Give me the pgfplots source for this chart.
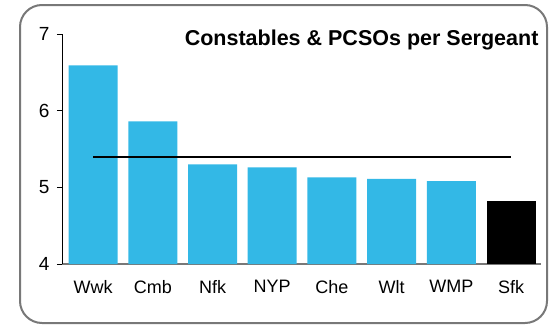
\documentclass[border=0pt]{standalone}
\usepackage{pgfplots}
\pgfplotsset{compat=1.18}
\usepackage{fontspec}
\setmainfont{Liberation Sans}
\definecolor{barblue}{RGB}{51,184,230}
\definecolor{framegray}{RGB}{120,120,120}

\begin{document}
\begin{tikzpicture}[x=1pt,y=1pt]
\useasboundingbox (0,0) rectangle (553,325);
\draw[framegray, line width=2pt, rounded corners=22pt] (20,2) rectangle (547,320);
\begin{axis}[
    at={(62pt,61pt)}, anchor=south west,
    scale only axis,
    width=479pt, height=230pt,
    xmin=-0.52, xmax=7.5,
    ymin=4, ymax=7,
    ytick={4,5,6,7},
    xtick={0,1,2,3,4,5,6,7},
    xticklabels={Wwk,Cmb,Nfk,NYP,Che,Wlt,WMP,Sfk},
    axis x line*=bottom,
    axis y line*=left,
    x axis line style={draw=framegray, line width=1.5pt},
    y axis line style={draw=black, line width=0.8pt},
    major x tick style={draw=none},
    y tick style={draw=black, line width=0.8pt},
    tick align=outside,
    major tick length=5pt,
    ticklabel style={font=\fontsize{18}{20}\selectfont},
    yticklabel style={font=\fontsize{19}{21}\selectfont, xshift=-4pt},
    /pgf/number format/assume math mode=true,
    xticklabel style={yshift=-8pt},
    clip=false,
]
\addplot[ybar, bar width=49pt, fill=barblue, draw=none, bar shift=0pt]
    coordinates {(0,6.59)(1,5.86)(2,5.30)(3,5.26)(4,5.13)(5,5.11)(6,5.08)};
\addplot[ybar, bar width=49pt, fill=black, draw=none, bar shift=0pt]
    coordinates {(7,4.82)};
\addplot[black, line width=2pt] coordinates {(0,5.40)(7,5.40)};
\end{axis}
\node[anchor=east, font=\fontsize{21.5}{23}\selectfont\bfseries] at (542,285) {Constables \& PCSOs per Sergeant};
\end{tikzpicture}
\end{document}
